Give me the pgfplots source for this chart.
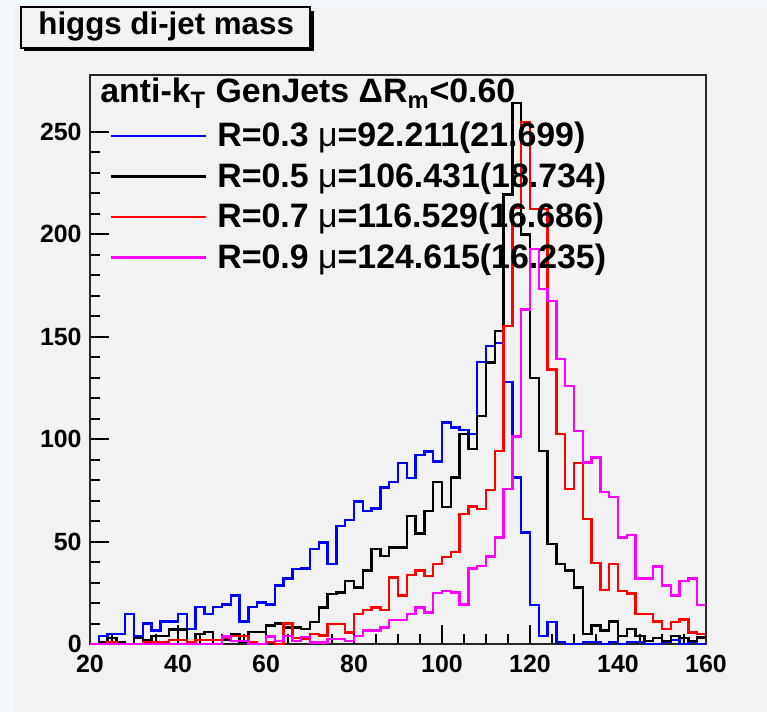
\documentclass[border=0pt]{standalone}
\usepackage{pgfplots}
\usepackage{pgfplotstable}
\pgfplotsset{compat=1.18}
\usepackage{fontspec}
\setmainfont{Liberation Sans}
\definecolor{canvas}{RGB}{242,242,242}
\definecolor{outerbg}{RGB}{246,249,252}
\definecolor{hblue}{RGB}{0,0,255}
\definecolor{hred}{RGB}{255,0,0}
\definecolor{hmag}{RGB}{255,0,255}
\newcommand{\mumu}{{\mdseries μ}}

\pgfplotstableread{
x    blue  black  red    mag
20   0     0      0      0
22   4     1      0      0
24   5     3      1      0
26   5     1      0      0
28   14.5  0      0      0
30   4     3      0      0
32   10    2      1      0
34   6.5   4      1      0
36   11    4      1      0
38   11    7      2      0
40   14.5  7      2      0
42   7.3   1      1      0
44   18    5      2      0
46   14.5  6      2      0
48   18    0      2      0
50   19.3  2      3      3.7
52   23.7  5      4      1.6
54   11    1      4      1.6
56   18    6      1      0
58   20.3  6      0      0
60   19.2  9      1      3.7
62   28.6  10     0      1.6
64   32    8      10     4
66   36.7  8      3      1.6
68   36.8  7.3    2.4    3.5
70   46.3  10.6   4.9    0.8
72   49.6  17.9   4.1    0.8
74   39    24.4   9.8    2.4
76   57.7  25.2   9.8    2.4
78   60.5  30.9   5.7    1.6
80   69.6  27.6   14.6   4
82   65    35.8   16.7   6.5
84   66.2  46.3   17.9   6.5
86   76.4  43     16.7   8.1
88   79.2  47.2   32.5   11.7
90   88.3  47.2   23.6   11.7
92   81    62.6   33.7   14.6
94   92.2  54     35.8   17.9
96   94    65     33.3   15.4
98   89.1  79.2   39     24.9
100  108.1 67     42.6   26
102  105.7 81.3   45     25.2
104  104.4 102.4  63.4   19.2
106  102.4 95.1   67.2   36.8
108  137.7 111.4  65.9   38.2
110  145.5 137.4  75.3   42.8
112  147   152.8  94.3   52
114  128   219.5  155.3  75.6
116  81.3  264.2  213    101.3
118  54.5  200    254.8  163.4
120  19    130    212.5  192.7
122  4     94.3   212.5  173.2
124  10.6  48.8   134    167.5
126  1     39     102.4  139
128  0     35.8   75.6   126
130  0     27.6   88.3   104
132  1     4.9    61     88.6
134  1     9      39.5   91
136  0     6.5    26.5   74.2
138  1     10.9   39     71.9
140  0     4      26     52
142  1     7.3    24.7   53.2
144  1     4      14.6   32
146  0     1.6    14.6   32
148  0     2.8    10.9   37.9
150  1     1.6    7.3    28.5
152  2     4      10.6   23.6
154  0     2.8    11.9   30.9
156  1     1.6    5.7    32
158  0     3.2    4.9    19
160  0     3.2    4.9    19
}\histdata

\begin{document}
\begin{tikzpicture}[x=0.5bp,y=0.5bp]
\fill[outerbg] (0,0) rectangle (767,712);
\fill[canvas] (15,0) rectangle (767,705);
% title box with shadow
\fill[black] (24,660.5) rectangle (313.5,701);
\filldraw[fill=canvas, draw=black, line width=1bp] (21,664) rectangle (310,705);
\node[anchor=base west, inner sep=0pt, font=\fontsize{15.7}{15.7}\selectfont\bfseries] at (38,677) {higgs di-jet mass};

\begin{axis}[
  at={(45bp,34bp)}, anchor=south west,
  scale only axis, width=308bp, height=284.5bp,
  xmin=20, xmax=160, ymin=0, ymax=277.8,
  xtick={20,40,...,160}, ytick={0,50,...,250},
  minor x tick num=3, minor y tick num=4,
  tick align=inside, tick pos=left,
  major tick length=9.5bp, minor tick length=5bp,
  every tick/.style={line width=1bp, black},
  axis line style={line width=1.1bp, black!85},
  clip=false,
  scaled ticks=false,
  /pgf/number format/assume math mode=true,
  ticklabel style={font=\fontsize{12.5}{12.5}\selectfont\bfseries},
  xticklabel style={inner sep=0pt, yshift=-5.5bp, anchor=north},
  yticklabel style={inner sep=0pt, xshift=-4bp, anchor=east},
  legend style={at={(axis description cs:0.0325,0.917)}, anchor=north west,
    draw=none, fill=none, inner sep=0pt, outer sep=0pt,
    row sep=6.5bp, column sep=5bp,
    font=\fontsize{17}{17}\selectfont\bfseries,
    nodes={inner sep=0pt}},
  legend cell align=left,
  legend image code/.code={\draw[#1, line width=1.2bp] (0bp,0bp) -- (47.5bp,0bp);},
]
\addplot[const plot mark left, hblue, line width=1.2bp] table[x=x, y=blue] {\histdata};
\addlegendentry{R=0.3 \mumu=92.211(21.699)}
\addplot[const plot mark left, black, line width=1.2bp] table[x=x, y=black] {\histdata};
\addlegendentry{R=0.5 \mumu=106.431(18.734)}
\addplot[const plot mark left, hred, line width=1.2bp] table[x=x, y=red] {\histdata};
\addlegendentry{R=0.7 \mumu=116.529(16.686)}
\addplot[const plot mark left, hmag, line width=1.2bp] table[x=x, y=mag] {\histdata};
\addlegendentry{R=0.9 \mumu=124.615(16.235)}
\node[anchor=base west, inner sep=0pt, font=\fontsize{17}{17}\selectfont\bfseries]
  at (axis description cs:0.0162,0.951) {anti-k\textsubscript{T} GenJets ΔR\textsubscript{m}<0.60};
\end{axis}
\end{tikzpicture}
\end{document}
